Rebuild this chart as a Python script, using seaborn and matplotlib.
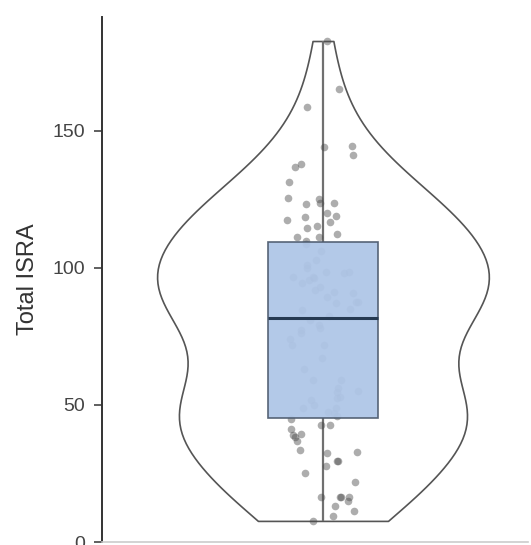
import numpy as np
import pandas as pd
import matplotlib
matplotlib.use("Agg")
import matplotlib.pyplot as plt
import seaborn as sns

# Values (Total ISRA scores)
top_vals = [182.8, 165.3, 158.8, 144.2, 144.5, 141.2, 136.9, 138.0, 131.4,
            125.2, 125.5, 123.7, 123.7, 123.4, 119.0, 116.8, 117.5, 120.0,
            118.6, 115.3, 114.6, 112.4, 111.3, 111.3]
upper_mid_vals = [98.5, 98.0, 95.6, 94.5, 92.0, 87.6, 87.6, 87.2, 90.9, 98.5,
                  96.4, 96.7, 91.2, 89.4, 96.7, 84.7, 103.0, 106.0, 108.6,
                  101.0, 93.0, 85.0, 82.6, 100.0, 109.8]
lower_mid_vals = [78.1, 77.4, 76.3, 71.9, 71.9, 67.2, 59.1, 56.2, 59.1, 54.7,
                  52.6, 50.0, 48.9, 51.8, 47.4, 81.0, 79.0, 74.0, 63.0, 55.0,
                  49.0, 45.8, 47.0, 53.0]
bottom_vals = [42.7, 42.7, 45.0, 41.2, 39.4, 36.9, 39.1, 38.3, 32.5, 33.6,
               32.8, 29.6, 27.7, 29.6, 25.2, 21.9, 15.0, 16.4, 16.4, 16.4,
               16.4, 13.1, 11.3, 9.5, 7.7]

y_ticks = [0, 50, 100, 150]
y_label = "Total ISRA"

values = np.array(top_vals + upper_mid_vals + lower_mid_vals + bottom_vals)
df = pd.DataFrame({"group": ["all"] * len(values), "Total ISRA": values})

sns.set_style("white")
plt.rcParams["font.family"] = ["Liberation Sans", "DejaVu Sans"]

fig = plt.figure(figsize=(5.31, 5.45), dpi=100)
ax = fig.add_axes([0.192, 0.0055, 0.802, 0.9635])

sns.violinplot(data=df, x="group", y="Total ISRA", cut=0, inner=None,
               color="white", linecolor="#555555", linewidth=1.2, width=0.8,
               ax=ax)
np.random.seed(3)
sns.stripplot(data=df, x="group", y="Total ISRA", color="#4a4a4a", alpha=0.45,
              size=5.5, jitter=0.09, linewidth=0, ax=ax, zorder=2)
sns.boxplot(data=df, x="group", y="Total ISRA", width=0.265, whis=np.inf,
            showcaps=False, showfliers=False, color="#a6c4f0",
            linecolor="#4f5d70", linewidth=1.2,
            boxprops=dict(alpha=0.95, zorder=3),
            medianprops=dict(color="#263a52", linewidth=2.2, zorder=4),
            whiskerprops=dict(color="#707070", linewidth=1.6, zorder=1.5),
            ax=ax)

ax.set_xlim(-0.533, 0.494)
ax.set_ylim(0, 191.6)
ax.set_yticks(y_ticks)
ax.set_xticks([])
ax.set_xlabel("")
ax.set_ylabel(y_label, fontsize=17, color="#333333", labelpad=10)
ax.tick_params(axis="y", labelsize=14, colors="#444444", length=6, width=1.2,
               direction="out", left=True, pad=6)
for s in ["top", "right"]:
    ax.spines[s].set_visible(False)
ax.spines["left"].set_color("#333333")
ax.spines["left"].set_linewidth(1.4)
ax.spines["bottom"].set_color("#cccccc")
ax.spines["bottom"].set_linewidth(1.2)

fig.savefig("out.png", dpi=100)
